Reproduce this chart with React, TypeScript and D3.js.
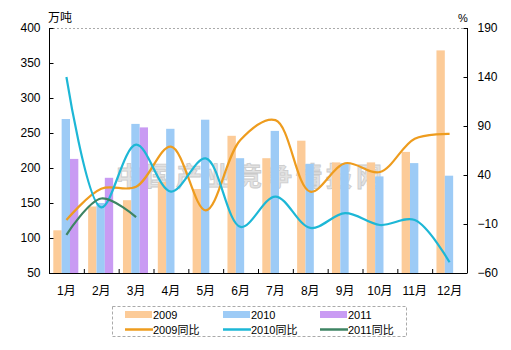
import React, { useEffect, useRef } from "react";
import * as d3 from "d3";

// months and series (万吨 / %)
const months = ["1月", "2月", "3月", "4月", "5月", "6月", "7月", "8月", "9月", "10月", "11月", "12月"];
const output2009 = [111, 145, 154, 180, 170, 246, 214, 239, 208, 208, 223, 368];
const output2010 = [270, 150, 263, 256, 269, 214, 253, 206, 207, 188, 207, 189];
const output2011 = [213, 186, 258];
const yoy2009 = [-6, 26, 28, 69, 4, 76, 96, 23, 52, 43, 77, 82];
const yoy2010 = [140, 7, 71, 23, 57, -13, 18, -14, 1, -11, -6, -49];
const yoy2011 = [-21, 16, -3];
const leftTicks = [50, 100, 150, 200, 250, 300, 350, 400];
const rightTicks = [-60, -10, 40, 90, 140, 190];

const colors = {
  b2009: "#FCCB98",
  b2010: "#9DCBF6",
  b2011: "#C99BF3",
  l2009: "#EE9C1E",
  l2010: "#1DB7D6",
  l2011: "#3E8463",
};

const App = () => {
  const svgRef = useRef<SVGSVGElement>(null);

  useEffect(() => {
    const svg = d3.select(svgRef.current);
    svg.selectAll("*").remove();
    const font = "'Liberation Sans', Arial, sans-serif";
    const cjk = "'Liberation Sans', 'Noto Sans CJK SC', sans-serif";

    const left = 49;
    const right = 467;
    const top = 28;
    const bottom = 273;

    const x = d3.scaleBand().domain(months).range([left, right]).padding(0);
    const xInner = d3.scaleBand().domain(["2009", "2010", "2011"]).range([4.3, x.bandwidth() - 5.5]).padding(0);
    const yL = d3.scaleLinear().domain([50, 400]).range([bottom, top]);
    const yR = d3.scaleLinear().domain([-60, 190]).range([bottom, top]);

    // top dotted line
    svg.append("line")
      .attr("x1", left).attr("x2", right)
      .attr("y1", top + 0.5).attr("y2", top + 0.5)
      .attr("stroke", "#aaa").attr("stroke-dasharray", "2,2");

    // watermark
    svg.append("text")
      .attr("x", 251).attr("y", 186)
      .attr("text-anchor", "middle")
      .attr("font-family", "'Noto Sans CJK SC', sans-serif")
      .attr("font-size", 26).attr("font-weight", "bold")
      .attr("letter-spacing", 4)
      .attr("fill", "#d6d6d6").attr("stroke", "#b5b5b5").attr("stroke-width", 0.8)
      .attr("opacity", 0.7)
      .text("中国产业竞争情报网");

    // bars
    const series = [
      { key: "2009", data: output2009, color: colors.b2009 },
      { key: "2010", data: output2010, color: colors.b2010 },
      { key: "2011", data: output2011, color: colors.b2011 },
    ];
    series.forEach((s) => {
      svg.append("g")
        .selectAll("rect")
        .data(s.data)
        .enter()
        .append("rect")
        .attr("x", (d, i) => (x(months[i]) as number) + (xInner(s.key) as number))
        .attr("y", (d) => yL(d))
        .attr("width", xInner.bandwidth())
        .attr("height", (d) => bottom - yL(d))
        .attr("fill", s.color);
    });

    // smoothed lines
    const line = d3.line<number>()
      .x((d, i) => (x(months[i]) as number) + x.bandwidth() / 2)
      .y((d) => yR(d))
      .curve(d3.curveCatmullRom.alpha(0.5));
    [
      { data: yoy2009, color: colors.l2009 },
      { data: yoy2010, color: colors.l2010 },
      { data: yoy2011, color: colors.l2011 },
    ].forEach((l) => {
      svg.append("path")
        .attr("d", line(l.data))
        .attr("fill", "none")
        .attr("stroke", l.color)
        .attr("stroke-width", 2.2);
    });

    // axes
    const axisL = svg.append("g").attr("transform", `translate(${left + 0.5},0)`)
      .call(d3.axisLeft(yL).tickValues(leftTicks).tickSize(-4).tickPadding(9));
    const axisR = svg.append("g").attr("transform", `translate(${right + 0.5},0)`)
      .call(d3.axisRight(yR).tickValues(rightTicks).tickSize(-4).tickPadding(10));
    const axisB = svg.append("g").attr("transform", `translate(0,${bottom + 0.5})`)
      .call(d3.axisBottom(x).tickSize(0).tickPadding(13));
    [axisL, axisR, axisB].forEach((a) => {
      a.select(".domain").attr("stroke", "#000");
      a.selectAll("text").attr("font-family", cjk).attr("font-size", 12).attr("fill", "#000");
    });
    axisL.select(".domain").attr("d", `M0,${top}V${bottom}`);
    axisR.select(".domain").attr("d", `M0,${top}V${bottom}`);
    axisB.select(".domain").attr("d", `M${left},0H${right}`);
    // category boundary ticks pointing up
    svg.append("g")
      .selectAll("line")
      .data(months.slice(1))
      .enter()
      .append("line")
      .attr("x1", (d) => (x(d) as number) + 0.5)
      .attr("x2", (d) => (x(d) as number) + 0.5)
      .attr("y1", bottom).attr("y2", bottom - 4)
      .attr("stroke", "#000");

    // unit labels
    svg.append("text").attr("x", 48).attr("y", 22)
      .attr("font-family", cjk).attr("font-size", 12)
      .text("万吨");
    svg.append("text").attr("x", 463).attr("y", 22).attr("text-anchor", "middle")
      .attr("font-family", font).attr("font-size", 11)
      .text("%");

    // legend
    const legend = svg.append("g");
    legend.append("rect")
      .attr("x", 112.5).attr("y", 306.5).attr("width", 294).attr("height", 30)
      .attr("fill", "none").attr("stroke", "#aaa").attr("stroke-dasharray", "3,2");
    const cols = [125, 223, 320];
    const items = [
      { label: "2009", color: colors.b2009, bar: true },
      { label: "2010", color: colors.b2010, bar: true },
      { label: "2011", color: colors.b2011, bar: true },
      { label: "2009同比", color: colors.l2009, bar: false },
      { label: "2010同比", color: colors.l2010, bar: false },
      { label: "2011同比", color: colors.l2011, bar: false },
    ];
    items.forEach((it, i) => {
      const cx = cols[i % 3];
      const cy = i < 3 ? 314.5 : 329.5;
      if (it.bar) {
        legend.append("rect").attr("x", cx).attr("y", cy - 3.5).attr("width", 27).attr("height", 7).attr("fill", it.color);
      } else {
        legend.append("line").attr("x1", cx).attr("x2", cx + 28).attr("y1", cy).attr("y2", cy)
          .attr("stroke", it.color).attr("stroke-width", 2.5);
      }
      legend.append("text").attr("x", cx + 28).attr("y", cy + 4)
        .attr("font-family", cjk).attr("font-size", 11)
        .text(it.label);
    });
  }, []);

  return (
    <div style={{ position: "absolute", left: 0, top: 0, background: "#fff" }}>
      <svg ref={svgRef} width={511} height={350}></svg>
    </div>
  );
};

export default App;
